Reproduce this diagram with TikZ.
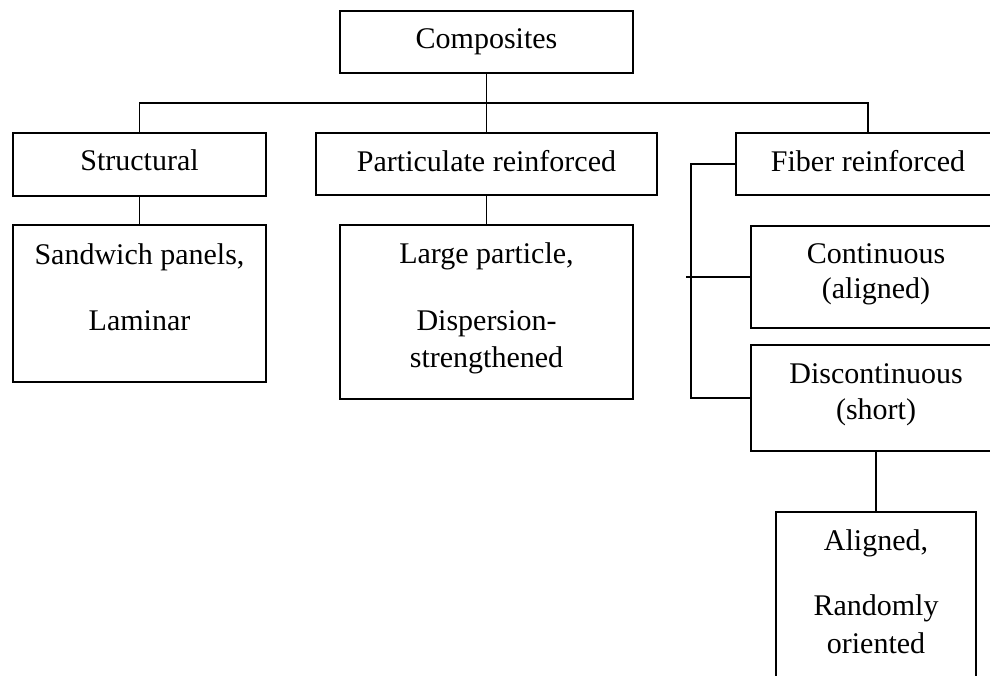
\documentclass[tikz,border=0pt]{standalone}
\usepackage{fontspec}
\setmainfont{Liberation Serif}
\begin{document}
\begin{tikzpicture}[x=1pt,y=-1pt,
  box/.style={draw, line width=1.3pt, rectangle, inner sep=0pt},
  txt/.style={anchor=base, inner sep=0pt, font=\fontsize{30}{36}\selectfont},
  conn/.style={line width=1.3pt}]
\useasboundingbox (0,0) rectangle (990,675);
\clip (0,0) rectangle (990,675);
% boxes
\node[box, minimum width=293pt, minimum height=62pt] (comp) at (486.5,42) {};
\node[box, minimum width=253pt, minimum height=63pt] (struct) at (139.5,164.5) {};
\node[box, minimum width=341pt, minimum height=62pt] (part) at (486.5,164) {};
\node[box, minimum width=264pt, minimum height=62pt] (fiber) at (868,164) {};
\node[box, minimum width=253pt, minimum height=157pt] (sand) at (139.5,303.5) {};
\node[box, minimum width=293pt, minimum height=174pt] (large) at (486.5,312) {};
\node[box, minimum width=250pt, minimum height=102pt] (cont) at (876,277) {};
\node[box, minimum width=250pt, minimum height=106pt] (disc) at (876,398) {};
\node[box, minimum width=200pt, minimum height=188pt] (alig) at (876,606) {};
% texts
\node[txt] (t1) at (486.5,48) {Composites};
\node[txt] (t2) at (139.5,170) {Structural};
\node[txt] (t3) at (486.5,171) {Particulate reinforced};
\node[txt] (t4) at (868,171) {Fiber reinforced};
\node[txt] (t5) at (139.5,264) {Sandwich panels,};
\node[txt] (t6) at (139.5,330) {Laminar};
\node[txt] (t7) at (486.5,263) {Large particle,};
\node[txt] (t8) at (486.5,330) {Dispersion-};
\node[txt] (t9) at (486.5,367) {strengthened};
\node[txt] (t10) at (876,263) {Continuous};
\node[txt] (t11) at (876,298) {(aligned)};
\node[txt] (t12) at (876,383) {Discontinuous};
\node[txt] (t13) at (876,419) {(short)};
\node[txt] (t14) at (876,550) {Aligned,};
\node[txt] (t15) at (876,615) {Randomly};
\node[txt] (t16) at (876,653) {oriented};
% connectors
\coordinate (bus) at (487,103);
\coordinate (tick) at (686,277);
\coordinate (brk) at (691,164);
\draw[conn] (comp.south) -- (part.north);
\draw[conn] (struct.north) |- (bus) -| (fiber.north);
\draw[conn] (struct.south) -- (sand.north);
\draw[conn] (part.south) -- (large.north);
\draw[conn] (fiber.west) -- (brk) |- (disc.west);
\draw[conn] (tick) -- (cont.west);
\draw[conn] (disc.south) -- (alig.north);
\end{tikzpicture}
\end{document}
